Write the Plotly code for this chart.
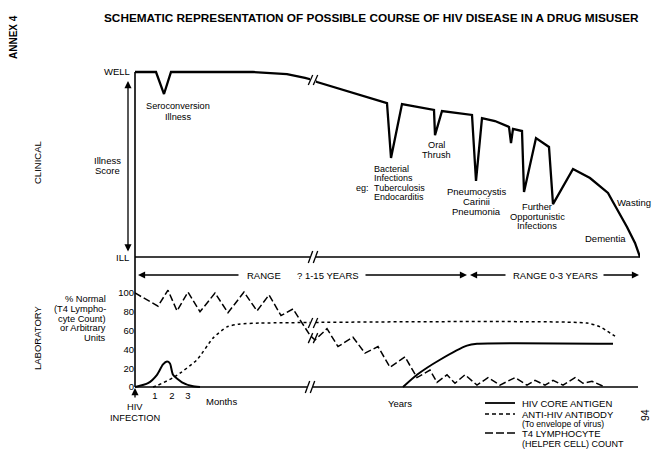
import numpy as np
import plotly.graph_objects as go

W, H = 661, 463
FONT = "Liberation Sans, Arial, Helvetica, sans-serif"

# ---------------- data (schematic time units along the broken axis) -------------
# Clinical illness score: 100 = WELL, 0 = ILL
clin_x = [0, 21, 29, 36, 118, 152, 170, 178, 182, 218, 252, 256, 267, 299, 300, 307,
          337, 341, 347, 360, 374, 376, 378, 387, 389, 401, 414, 418, 438, 455, 473,
          478, 492, 500, 505]
clin_y = [100, 100, 88.1, 100, 100, 98.9, 96.8, 95.7, 94.6, 88.6, 83.2, 53.5, 82.7,
          79.5, 65.9, 78.9, 76.8, 41.1, 75.1, 73.5, 70.3, 61.6, 69.2, 68.1, 35.1, 64.3,
          59.5, 28.6, 47.6, 42.7, 34.6, 29.7, 16.2, 7.6, 0]

# Laboratory: % normal / arbitrary units
core_early_x = [0, 13, 22, 28, 32, 35, 38, 47, 57, 65]
core_early_y = [0, 4, 13, 24, 27, 25, 13, 5, 1, 0]
core_late_x = [268, 282, 305, 332, 342, 478]
core_late_y = [0, 13, 29, 44, 46, 46]

anti_x = [18, 23, 40, 62, 78, 92, 105, 125, 452, 465, 480]
anti_y = [0, 2, 11, 29, 52, 64, 67, 68, 68, 64, 54]

t4_x = [0, 23, 33, 42, 53, 65, 80, 93, 109, 122, 134, 146, 158, 175, 180, 192, 203,
        218, 230, 243, 255, 270, 282, 295, 302, 312, 320, 330, 342, 353, 365, 380,
        392, 400, 410, 418, 428, 440, 448, 457, 470]
t4_y = [100, 86, 103, 81, 101, 80, 100, 79, 101, 81, 98, 76, 83, 55, 50, 62, 43,
        53, 36, 43, 21, 32, 10, 18, 5, 13, 4, 13, 2, 10, 2, 10, 2, 7, 2, 7, 2, 10,
        4, 6, 0]

lab_ticks = [0, 20, 40, 60, 80, 100]
month_pos = [20, 37, 53]
month_labels = ["1", "2", "3"]
BREAK_X = 178

# ---------------- geometry -------------------------------------------------------
XL, XR = 135, 640
X_RANGE = [0, XR - XL]
TOP_ILL, TOP_WELL = 257, 72
BOT_ZERO, BOT_100 = 387, 293
ts = (TOP_ILL - TOP_WELL) / 100
bs = (BOT_ZERO - BOT_100) / 100
TOP_RANGE = [-4, 104]
BOT_RANGE = [-12, 112]


def top_py(v):
    return TOP_ILL - ts * v


def bot_py(v):
    return BOT_ZERO - bs * v


def P(px, py):
    return px / W, 1 - py / H


top_dom = [1 - top_py(TOP_RANGE[0]) / H, 1 - top_py(TOP_RANGE[1]) / H]
bot_dom = [1 - bot_py(BOT_RANGE[0]) / H, 1 - bot_py(BOT_RANGE[1]) / H]
xdom = [XL / W, XR / W]

fig = go.Figure()
fig.add_trace(go.Scatter(x=clin_x, y=clin_y, xaxis="x", yaxis="y", mode="lines",
                         line=dict(color="black", width=2.3), hoverinfo="skip"))
fig.add_trace(go.Scatter(x=anti_x, y=anti_y, xaxis="x2", yaxis="y2", mode="lines",
                         line=dict(color="black", width=1.5, dash="3px,3px",
                                   shape="spline", smoothing=0.6), hoverinfo="skip"))
fig.add_trace(go.Scatter(x=t4_x, y=t4_y, xaxis="x2", yaxis="y2", mode="lines",
                         line=dict(color="black", width=1.5, dash="7px,3px"),
                         hoverinfo="skip"))
for cx, cy in ((core_early_x, core_early_y), (core_late_x, core_late_y)):
    fig.add_trace(go.Scatter(x=cx, y=cy, xaxis="x2", yaxis="y2", mode="lines",
                             line=dict(color="black", width=2, shape="spline",
                                       smoothing=0.6), hoverinfo="skip"))

shapes = []


def pline(x0, y0, x1, y1, w=1.4, color="black", dash=None):
    a, b = P(x0, y0)
    c, d = P(x1, y1)
    ln = dict(color=color, width=w)
    if dash:
        ln["dash"] = dash
    shapes.append(dict(type="line", xref="paper", yref="paper", x0=a, y0=b, x1=c, y1=d,
                       line=ln))


# frame: left vertical, ILL line, lab zero axis
pline(XL, TOP_WELL, XL, BOT_ZERO, 1.6)
pline(XL, TOP_ILL, XR, TOP_ILL, 1.6)
pline(XL, BOT_ZERO, XR - 2, BOT_ZERO, 1.6)


def brk(px, py, gap=True, h=6, dx=2.2, sep=5):
    if gap:
        pline(px - sep / 2 - 0.5, py, px + sep / 2 + 0.5, py, 5, "white")
    for c in (px - sep / 2, px + sep / 2):
        pline(c - dx, py + h, c + dx, py - h, 1.3)


bx = XL + BREAK_X
brk(bx, top_py(np.interp(BREAK_X, clin_x, clin_y)), h=5)
brk(bx, TOP_ILL)
brk(XL + 175, BOT_ZERO)
brk(bx, bot_py(np.interp(BREAK_X, anti_x, anti_y)), h=5)
brk(bx, bot_py(np.interp(BREAK_X, t4_x, t4_y)), gap=False, h=5)

# legend samples
pline(485, 403, 515, 403, 1.8)
pline(485, 414, 515, 414, 1.5, dash="4px,3px")
pline(485, 433, 515, 433, 1.5, dash="8px,3px")

ann = []


def txt(s, px, py, size=9.5, xa="center", bold=False, angle=0):
    x, y = P(px, py)
    if bold:
        s = "<b>" + s + "</b>"
    ann.append(dict(text=s, x=x, y=y, xref="paper", yref="paper", showarrow=False,
                    xanchor=xa, yanchor="middle", textangle=angle,
                    font=dict(family=FONT, size=size, color="black")))


def lines(lst, px, py0, dy=9.7, size=9.2, xa="center"):
    for i, s in enumerate(lst):
        txt(s, px, py0 + i * dy, size=size, xa=xa)


def arrow(hx, hy, tx, ty, both=False):
    x, y = P(hx, hy)
    ann.append(dict(text="", x=x, y=y, xref="paper", yref="paper", showarrow=True,
                    ax=tx - hx, ay=ty - hy, arrowhead=2, arrowsize=1.1, arrowwidth=1.3,
                    arrowcolor="black", standoff=0, startstandoff=0,
                    arrowside="end+start" if both else "end", startarrowhead=2,
                    startarrowsize=1.1))


txt("SCHEMATIC REPRESENTATION OF POSSIBLE COURSE OF HIV DISEASE IN A DRUG MISUSER",
    372, 18, size=11.8, bold=True)
txt("ANNEX 4", 13, 37, size=10, bold=True, angle=-90)
txt("94", 645, 415, size=10.5, angle=-90)
txt("CLINICAL", 38, 163, size=9.5, angle=-90)
txt("LABORATORY", 37, 338, size=9.5, angle=-90)

txt("WELL", 132, 71, xa="right")
txt("ILL", 131, 257, xa="right")
arrow(128, 81, 128, 253, both=True)
lines(["Illness", "Score"], 107, 160, dy=10.5, size=9.5)

lines(["Seroconversion", "Illness"], 178, 106.5, dy=10.2, size=9.2)
lines(["Bacterial", "Infections", "Tuberculosis", "Endocarditis"], 372, 169, dy=9.3,
      size=9, xa="left")
txt("eg:", 371, 187.6, size=9, xa="right")
lines(["Oral", "Thrush"], 436, 145, dy=9.6, size=9.2)
lines(["Pneumocystis", "Carinii", "Pneumonia"], 476, 191, dy=10, size=9.5)
lines(["Further", "Opportunistic", "Infections"], 537, 207, dy=9.7, size=9.3)
txt("Wasting", 634, 202)
txt("Dementia", 605, 238)

# range row
arrow(138, 275, 240, 275)
txt("RANGE", 264, 275, size=9.5)
txt("? 1-15 YEARS", 295, 275, size=9.5, xa="left")
arrow(467, 275, 364, 275)
arrow(470, 275, 507, 275)
txt("RANGE 0-3 YEARS", 511, 275, size=9.5, xa="left")
arrow(639, 275, 602, 275)

lines(["% Normal", "(T4 Lympho-", "cyte Count)", "or Arbitrary", "Units"], 108, 299,
      dy=9.8, size=9.3, xa="right")

arrow(135, 388, 135, 399)
lines(["HIV", "INFECTION"], 135, 407, dy=10.5, size=9.3)
txt("Months", 221, 401)
txt("Years", 400, 403)

txt("HIV CORE ANTIGEN", 520, 403, xa="left")
txt("ANTI-HIV ANTIBODY", 520, 414, xa="left")
txt("(To envelope of virus)", 520, 423.5, size=8.6, xa="left")
txt("T4 LYMPHOCYTE", 520, 433, xa="left")
txt("(HELPER CELL) COUNT", 520, 443.5, size=9, xa="left")

hid = dict(visible=False, fixedrange=True)
fig.update_layout(
    width=W, height=H, margin=dict(l=0, r=0, t=0, b=0, pad=0),
    paper_bgcolor="white", plot_bgcolor="rgba(0,0,0,0)", showlegend=False,
    font=dict(family=FONT, color="black"),
    xaxis=dict(domain=xdom, range=X_RANGE, anchor="y", **hid),
    yaxis=dict(domain=top_dom, range=TOP_RANGE, anchor="x", **hid),
    xaxis2=dict(domain=xdom, range=X_RANGE, anchor="free", position=1 - (BOT_ZERO + 1) / H,
                tickvals=month_pos, ticktext=month_labels, showgrid=False,
                zeroline=False, showline=False, ticks="", fixedrange=True,
                tickfont=dict(family=FONT, size=9.5, color="black")),
    yaxis2=dict(domain=bot_dom, range=BOT_RANGE, anchor="free", position=XL / W,
                tickvals=lab_ticks, showgrid=False, zeroline=False, showline=False,
                ticks="", fixedrange=True, ticklabelstandoff=1,
                tickfont=dict(family=FONT, size=9.5, color="black")),
    shapes=shapes, annotations=ann,
)
fig.write_html(
    "out.html", config=dict(displayModeBar=False, staticPlot=True),
    post_script="document.body.style.margin='0';document.body.style.padding='0';"
                "document.documentElement.style.overflow='hidden';",
)
